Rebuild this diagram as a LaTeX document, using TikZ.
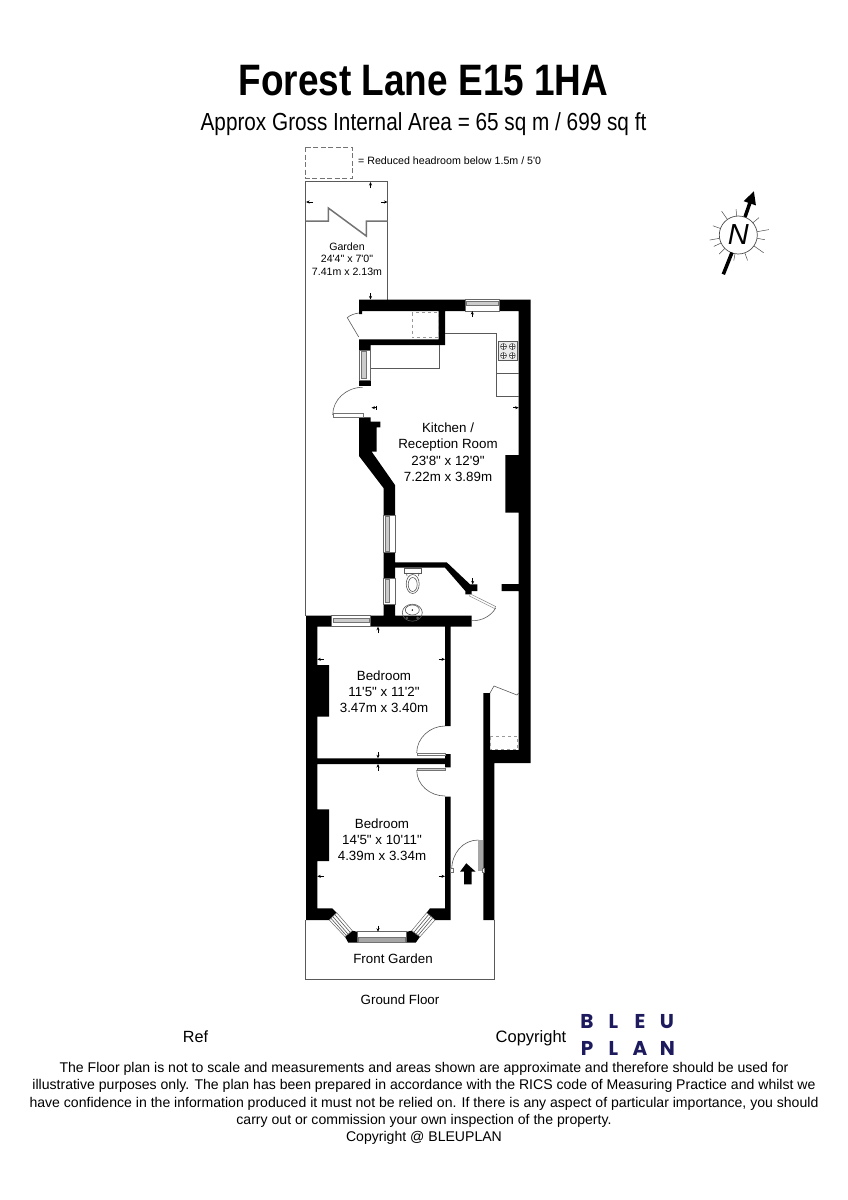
\documentclass[tikz,border=0pt]{standalone}
\usepackage{fontspec}
\setmainfont{Liberation Sans}[Ligatures=TeXOff]
\newfontfamily\logofont{Poppins}
\newfontfamily\titlefont{Liberation Sans}[FakeStretch=.84]
\usetikzlibrary{arrows.meta}
\definecolor{bleu}{HTML}{1D1A5E}
\begin{document}
\begin{tikzpicture}[x=1pt,y=-1pt,
    wall/.style = {fill=black},
    thin line/.style = {draw=black!65, line width=.6pt},
    break line/.style = {draw=black!55, line width=1.5pt},
    hidden/.style = {draw=black!40, dashed, line width=.6pt},
    window/.style = {draw=black!60, fill=white, line width=.5pt},
    band/.style = {draw=black!55, fill=black!20, line width=.4pt},
    tick/.style = {-{Stealth[length=3.5pt,width=3pt]}, line width=.7pt},
    bartick/.style = {{Bar[width=4pt]}-{Stealth[length=3.5pt,width=3pt]}, line width=.7pt},
    room/.style = {align=center, font=\fontsize{13.35}{16.2}\selectfont, inner sep=0pt},
    note/.style = {align=center, font=\fontsize{14.07}{17.4}\selectfont, inner sep=0pt}]
    \useasboundingbox (0,0) rectangle (848,1200);

    \node[inner sep=0pt, anchor=base, font=\fontsize{44}{46}\selectfont\titlefont\bfseries] (title) at (423.5,95) {Forest Lane E15 1HA};
    \node[inner sep=0pt, anchor=base, font=\fontsize{24.7}{26}\selectfont\titlefont] (subtitle) at (423.5,130.3) {Approx Gross Internal Area = 65 sq m / 699 sq ft};

    \draw[hidden, draw=black!55, dash pattern=on 5pt off 2.5pt] (305.5,147) rectangle (352,178);
    \node[inner sep=0pt, anchor=west, font=\fontsize{10.65}{12}\selectfont] (legend) at (358,161) {= Reduced headroom below 1.5m / 5'0};

    \draw[thin line] (305.5,221) -- (305.5,181.5) -- (387.5,181.5) -- (387.5,221);
    \draw[thin line] (387.5,221) -- (387.5,300);
    \draw[thin line] (305.5,221) -- (305.5,616);
    \draw[break line] (305.5,221) -- (328.3,221) -- (328.3,208) -- (366.3,236) -- (366.3,221) -- (387.5,221);
    \draw[thin line] (305.5,920) -- (305.5,979) -- (494.3,979) -- (494.3,920);

    \fill[wall] (359,299.5) -- (530.7,299.5) -- (530.7,763) -- (494.3,763) -- (494.3,920) -- (483.3,920) -- (483.3,693) -- (490,693) -- (490,750) -- (518.7,750) -- (518.7,693.5) -- (518.7,591) -- (501.7,591) -- (501.7,584) -- (518.7,584) -- (518.7,512.7) -- (505.3,512.7) -- (505.3,455) -- (518.7,455) -- (518.7,311) -- (445,311) -- (445,345) -- (370.7,345) -- (370.7,350) -- (359,350) -- (359,339.3) -- (438.7,339.3) -- (438.7,311) -- (362,311) -- (362,314) -- (359,314) -- cycle;
    \fill[wall] (359,380) rectangle (370.7,385.7);
    \fill[wall] (359,417.3) -- (370.7,417.3) -- (370.7,421.7) -- (380.3,421.7) -- (380.3,427.3) -- (376.7,427.3) -- (376.7,451.7) -- (371.7,451.7) -- (395,485) -- (395,515) -- (383.7,515) -- (383.7,488.3) -- (359,456) -- cycle;
    \fill[wall] (383.7,552.7) -- (395,552.7) -- (395,562.3) -- (446.7,562.3) -- (470,584.3) -- (477.3,584.3) -- (477.3,591) -- (471.7,591) -- (471.7,594.3) -- (465.3,594.3) -- (465.3,591) -- (445,567.7) -- (395,567.7) -- (395,578.3) -- (383.7,578.3) -- cycle;
    \fill[wall] (383.7,604) -- (395,604) -- (395,615.7) -- (471.7,615.7) -- (471.7,626.7) -- (450.7,626.7) -- (450.7,726) -- (445,726) -- (445,626.7) -- (370,626.7) -- (370,615.7) -- (383.7,615.7) -- cycle;
    \fill[wall] (306,615.7) -- (331.7,615.7) -- (331.7,626.7) -- (317.3,626.7) -- (317.3,665) -- (329,665) -- (329,716.7) -- (317.3,716.7) -- (317.3,758.3) -- (445,758.3) -- (445,754) -- (450.7,754) -- (450.7,767.3) -- (445,767.3) -- (445,764) -- (317.3,764) -- (317.3,809.3) -- (329,809.3) -- (329,861) -- (317.3,861) -- (317.3,908.3) -- (332.3,908.3) -- (336.7,912.7) -- (329.3,920) -- (306,920) -- cycle;
    \fill[wall] (445,796.7) -- (450.7,796.7) -- (450.7,920) -- (435,920) -- (426.7,912.7) -- (430,908.3) -- (445,908.3) -- cycle;
    \fill[wall] (352.3,930.7) -- (357.3,931.7) -- (357.3,942.7) -- (348.3,942.7) -- (345,936.7) -- cycle;
    \fill[wall] (411.7,930.7) -- (406.7,931.7) -- (406.7,942.7) -- (415.7,942.7) -- (420,936.7) -- cycle;

    \draw[window] (465,299.5) rectangle (499,311);
    \draw[band] (466,301) rectangle (498,305);
    \draw[window] (331.7,615.7) rectangle (370,626.7);
    \draw[band] (332.7,618) rectangle (369,622);
    \draw[window] (359,350) rectangle (370.7,380);
    \draw[band] (361,351.5) rectangle (366,378.5);
    \draw[window] (383.7,515) rectangle (395,552.7);
    \draw[band] (385.5,516.5) rectangle (389.5,551);
    \draw[window] (383.7,578.3) rectangle (395,604);
    \draw[band] (385.5,579.5) rectangle (389.5,602.5);
    \draw[window] (357.3,931.7) rectangle (406.7,942.7);
    \draw[band, fill=black!35] (358.5,937) rectangle (405.5,942);
    \draw[window] (336.7,912.7) -- (352.3,930.7) -- (345,936.7) -- (329.3,920) -- cycle;
    \draw[thin line] (334.7,914.5) -- (350.3,932.5) (332.7,916.4) -- (348.3,934.4) (330.9,918.2) -- (346.6,935.8);
    \draw[window] (426.7,912.7) -- (411.7,930.7) -- (420,936.7) -- (435,920) -- cycle;
    \draw[thin line] (428.7,914.5) -- (413.7,932.5) (430.7,916.4) -- (415.7,934.4) (432.5,918.2) -- (417.8,935.8);

    \draw[thin line] (358.7,337) -- (347.3,317.7) .. controls (350,315) and (355,313.5) .. (359,313);
    \draw[thin line] (332.7,415) .. controls (332.7,400) and (346,387.3) .. (362.7,387.3);
    \draw[band, fill=white] (332.7,413.3) rectangle (362.7,416.7);
    \draw[thin line] (416.7,753) .. controls (416.7,738) and (430,726) .. (445,726);
    \draw[band, fill=white] (416.7,752.7) rectangle (445,755);
    \draw[thin line] (416.7,770) .. controls (416.7,785) and (430,796) .. (445,796);
    \draw[band] (416.7,767.7) rectangle (445,770);
    \draw[thin line] (451.7,870) .. controls (451.7,853) and (463,840) .. (478.3,840);
    \draw[band, fill=black!35, draw=black!35] (478.3,840) rectangle (482.3,870);
    \draw[band, fill=white] (450.3,868) rectangle (452.7,872);
    \draw[band, fill=white] (482.3,868) rectangle (484,872);
    \draw[thin line] (495.7,608) .. controls (491,616) and (482,621) .. (471.7,620.7);
    \draw[band, fill=white] (470.5,594) -- (495.7,606.5) -- (494.5,608.5) -- (469.5,596) -- cycle;
    \draw[thin line] (490,693) -- (494,686) -- (517,695) -- (518.7,693);
    \fill[wall] (466.3,863.3) -- (475.7,871.7) -- (471.7,871.7) -- (471.7,884.3) -- (464,884.3) -- (464,871.7) -- (460,871.7) -- cycle;

    \draw[thin line] (445,333.3) -- (496,333.3) -- (496,396.7) -- (518.7,396.7);
    \draw[thin line] (496,373.3) -- (518.7,373.3);
    \draw[thin line] (370.7,368.3) -- (439.3,368.3) -- (439.3,345);
    \draw[thin line, fill=black!8] (498.3,341) rectangle (517.3,360.7);
    \foreach \hx in {503.5,512.3} {
        \foreach \hy in {346.5,355.5} {
            \draw[line width=.5pt, black!70, fill=white] (\hx,\hy) circle (3pt);
            \draw[line width=.3pt, black!70] (\hx-3,\hy) -- (\hx+3,\hy) (\hx,\hy-3) -- (\hx,\hy+3);
        }
    }
    \draw[hidden] (412.3,312.7) rectangle (438.7,337.7);
    \draw[hidden] (490,736.7) rectangle (517.7,749.3);

    \draw[thin line, fill=white] (404.3,568) rectangle (421,573);
    \draw[thin line] (406.5,573) -- (407,576) (419,573) -- (418.5,576);
    \draw[thin line] (412.7,584) ellipse (6.5pt and 9.5pt);
    \draw[thin line] (412.7,584.5) ellipse (4.5pt and 7pt);
    \draw[thin line] (412.3,612.7) ellipse (10pt and 8.5pt);
    \draw[thin line] (412.3,610) ellipse (7pt and 5pt);
    \fill[black] (412.3,610) circle (.8pt);
    \draw[thin line] (407,618) circle (1pt) (417.6,618) circle (1pt);

    \draw[tick] (370.5,188) -- (370.5,182);
    \draw[tick] (313,202) -- (306,202);
    \draw[tick] (381,202) -- (387.5,202);
    \draw[tick] (370.5,293) -- (370.5,299.5);
    \draw[tick] (472.3,317) -- (472.3,311);
    \draw[bartick] (377,407.7) -- (371.5,407.7);
    \draw[tick] (513,407.7) -- (518.7,407.7);
    \draw[tick] (472.7,578) -- (472.7,584.3);
    \draw[tick] (378,633) -- (378,626.7);
    \draw[tick] (323.5,659.3) -- (317.3,659.3);
    \draw[tick] (438.7,659.3) -- (445,659.3);
    \draw[tick] (378,752) -- (378,758.3);
    \draw[tick] (378,770.5) -- (378,764);
    \draw[tick] (323.5,876.3) -- (317.3,876.3);
    \draw[tick] (438.7,876.3) -- (445,876.3);
    \draw[tick] (378,925.5) -- (378,931.7);

    \node[room, font=\fontsize{10.6}{12.7}\selectfont] (garden) at (347,259) {Garden\\24'4" x 7'0"\\7.41m x 2.13m};
    \node[room] (kitchen) at (448,452.2) {Kitchen /\\Reception Room\\23'8" x 12'9"\\7.22m x 3.89m};
    \node[room] (bedroomA) at (384,691.7) {Bedroom\\11'5" x 11'2"\\3.47m x 3.40m};
    \node[room] (bedroomB) at (382,839.7) {Bedroom\\14'5" x 10'11"\\4.39m x 3.34m};
    \node[room] (frontgarden) at (393,958.7) {Front Garden};
    \node[room] (floor) at (400,999.5) {Ground Floor};

    \begin{scope}[shift={(738.3,235)}]
        \foreach \a/\r in {125/29,95/26,40/27,10/31,-10/27,-35/31,-70/27,-100/26,205/27,190/29,160/27,225/27} {
            \draw[line width=.5pt, black!70] (\a:19pt) -- (\a:\r pt);
        }
        \draw[line width=.7pt, black!70] (0,0) circle (19pt);
        \node[inner sep=0pt, font=\fontsize{29}{29}\selectfont\itshape] (north) at (0,0) {N};
    \end{scope}
    \draw[line width=3.5pt] (723.3,274.3) -- (732,252.5);
    \draw[line width=3.5pt, -{Triangle[length=13pt,width=12pt]}] (745,217) -- (754,191);

    \node[room, font=\fontsize{16.2}{18}\selectfont] (ref) at (195.5,1037) {Ref};
    \node[room, font=\fontsize{16.5}{18}\selectfont] (copyright) at (531,1038) {Copyright};
    \foreach \lx/\ly/\letter in {587/1028/B,613.5/1028/L,640/1028/E,667/1028/U,587/1055/P,613.5/1055/L,640/1055/A,667.5/1055/N} {
        \node[inner sep=0pt, anchor=base, text=bleu, font=\fontsize{20}{20}\selectfont\logofont\bfseries] at (\lx,\ly) {\letter};
    }
    \node[note] (disclaimer) at (424,1103.5) {The Floor plan is not to scale and measurements and areas shown are approximate and therefore should be used for\\illustrative purposes only. The plan has been prepared in accordance with the RICS code of Measuring Practice and whilst we\\have confidence in the information produced it must not be relied on. If there is any aspect of particular importance, you should\\carry out or commission your own inspection of the property.\\Copyright @ BLEUPLAN};
\end{tikzpicture}
\end{document}
